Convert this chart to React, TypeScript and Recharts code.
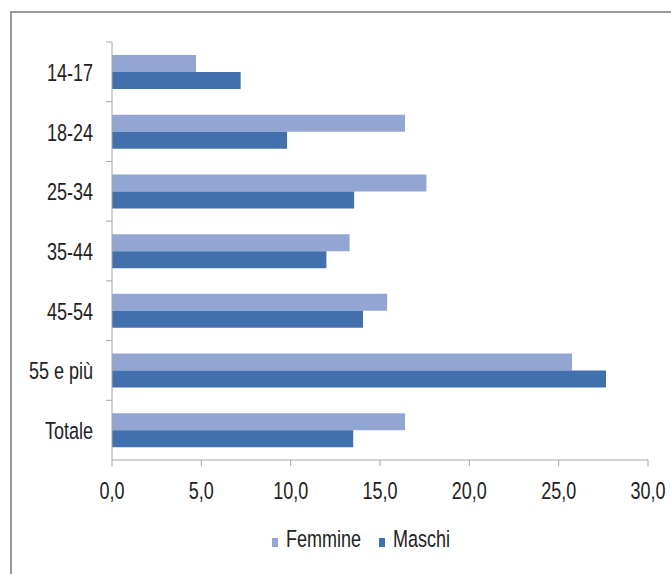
import React from "react";
import { BarChart, Bar, XAxis, YAxis, Legend } from "recharts";

const categories = ["14-17", "18-24", "25-34", "35-44", "45-54", "55 e più", "Totale"];
const femmine = [4.7, 16.4, 17.6, 13.3, 15.4, 25.75, 16.4];
const maschi = [7.2, 9.8, 13.55, 12.0, 14.05, 27.65, 13.5];
const xTicks = [0, 5, 10, 15, 20, 25, 30];
const seriesColors = ["#93a6d3", "#4270ad"];

const data = categories.map((c, i) => ({ cat: c, Femmine: femmine[i], Maschi: maschi[i] }));

const FONT = "'Liberation Sans', Arial, sans-serif";
const AXIS = "#a6a6a6";
const TXT = "#222";

const YTick = (props: any) => {
  const { x, y, payload } = props;
  const off = payload.offset || 0;
  const ax = x + 18;
  return (
    <g>
      <line x1={ax - 6} x2={ax} y1={y - off} y2={y - off} stroke={AXIS} strokeWidth={1} />
      <g transform={`translate(${x - 1},${y + 9})`}>
        <text x={0} y={0} transform="scale(1,1.35)" textAnchor="end" fontFamily={FONT} fontSize={18} fill={TXT}>
          {payload.value}
        </text>
      </g>
    </g>
  );
};

const XTick = (props: any) => {
  const { x, y, payload } = props;
  return (
    <g transform={`translate(${x},${y + 31})`}>
      <text x={0} y={0} transform="scale(1,1.35)" textAnchor="middle" fontFamily={FONT} fontSize={18} fill={TXT}>
        {Number(payload.value).toFixed(1).replace(".", ",")}
      </text>
    </g>
  );
};

const LegendContent = (props: any) => {
  const payload = props.payload || [];
  const starts = [272, 379];
  return (
    <svg width={671} height={44} style={{ display: "block", overflow: "visible" }}>
      {payload.map((p: any, i: number) => (
        <g key={i}>
          <rect x={starts[i]} y={17} width={6} height={9} fill={p.color} />
          <g transform={`translate(${starts[i] + 14},26)`}>
            <text x={0} y={0} transform="scale(1,1.35)" fontFamily={FONT} fontSize={18} fill={TXT}>
              {p.value}
            </text>
          </g>
        </g>
      ))}
    </svg>
  );
};

export default function App() {
  return (
    <div style={{ position: "fixed", left: 0, top: 0, width: 671, height: 574, overflow: "hidden", background: "#fff" }}>
      <div
        style={{
          position: "absolute",
          left: 10,
          top: 11,
          width: 700,
          height: 600,
          borderLeft: "2px solid #9a9a9a",
          borderTop: "2px solid #9a9a9a",
        }}
      />
      <div style={{ position: "absolute", left: 0, top: 0 }}>
        <BarChart
          width={671}
          height={574}
          data={data}
          layout="vertical"
          margin={{ top: 42, right: 23, left: 0, bottom: 40 }}
          barGap={0}
          barSize={17}
        >
          <XAxis
            type="number"
            domain={[0, 30]}
            ticks={xTicks}
            height={30}
            stroke={AXIS}
            tickLine={{ stroke: AXIS }}
            tick={<XTick />}
            interval={0}
          />
          <YAxis
            type="category"
            dataKey="cat"
            width={112}
            stroke={AXIS}
            tickLine={false}
            tick={<YTick />}
            tickMargin={0}
            tickSize={18}
            interval={0}
          />
          <Legend
            verticalAlign="bottom"
            align="center"
            content={<LegendContent />}
            wrapperStyle={{ top: 521, left: 0, width: 671 }}
          />
          <Bar dataKey="Femmine" fill={seriesColors[0]} isAnimationActive={false} />
          <Bar dataKey="Maschi" fill={seriesColors[1]} isAnimationActive={false} />
        </BarChart>
      </div>
    </div>
  );
}
